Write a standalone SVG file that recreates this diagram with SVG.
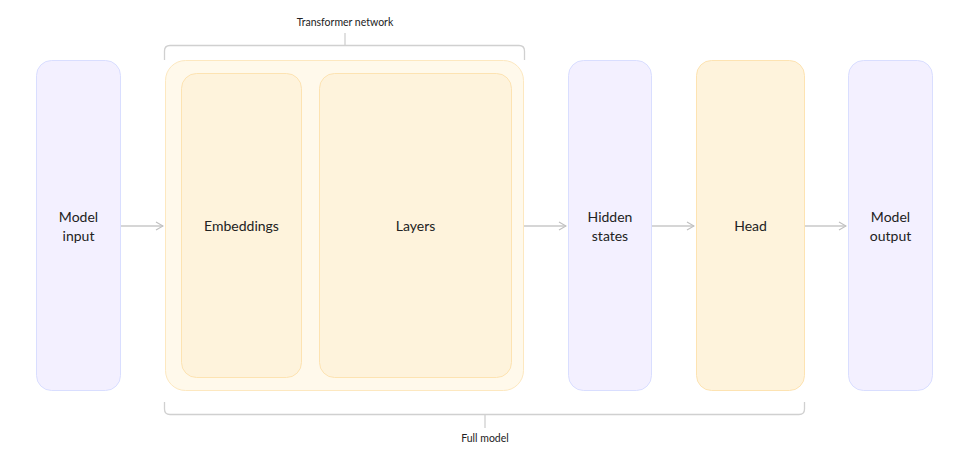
<svg xmlns="http://www.w3.org/2000/svg" width="959" height="474" viewBox="0 0 959 474">
<defs>
<style>
.p{fill:#f3f0ff;stroke:#d9deff;stroke-width:1}
.o{fill:#fef3dc;stroke:#fde3b2;stroke-width:1}
.oo{fill:#fff9eb;stroke:#fde8c0;stroke-width:1}
.t{font-family:Lato,"Liberation Sans",sans-serif;font-size:14px;fill:#222;text-anchor:middle}
.s{font-family:Lato,"Liberation Sans",sans-serif;font-size:10.5px;fill:#222;text-anchor:middle}
.c{fill:none;stroke:#c8c8c8;stroke-width:1.3}
.b{fill:none;stroke:#d0d0d0;stroke-width:1.3}
</style>
<marker id="ah" viewBox="0 0 10 10" refX="9" refY="5" markerWidth="10" markerHeight="10" markerUnits="userSpaceOnUse" orient="auto">
<path d="M2,1 L9,5 L2,9" fill="none" stroke="#c0c0c0" stroke-width="1.2"/>
</marker>
</defs>
<rect width="959" height="474" fill="#fff"/>
<g id="brackets">
<path class="b" d="M164.5,60 V51 Q164.5,45.5 170,45.5 H519 Q524.5,45.5 524.5,51 V60"/>
<path class="b" d="M345,45.5 V33"/>
<text class="s" x="345" y="26">Transformer network</text>
<path class="b" d="M164.5,402 V409 Q164.5,414.5 170,414.5 H799 Q804.5,414.5 804.5,409 V402"/>
<path class="b" d="M485,414.5 V428"/>
<text class="s" x="485" y="442">Full model</text>
</g>
<g id="model-input">
<rect class="p" x="36.5" y="60.5" width="84" height="330" rx="15"/>
<text class="t" x="78.5" y="222">Model</text>
<text class="t" x="78.5" y="241">input</text>
</g>
<g id="transformer">
<rect class="oo" x="165.5" y="60.5" width="358" height="330" rx="20"/>
</g>
<g id="embeddings">
<rect class="o" x="181.5" y="73.5" width="120" height="304" rx="15"/>
<text class="t" x="241.5" y="231">Embeddings</text>
</g>
<g id="layers">
<rect class="o" x="319.5" y="73.5" width="192" height="304" rx="15"/>
<text class="t" x="415.5" y="231">Layers</text>
</g>
<g id="hidden-states">
<rect class="p" x="568.5" y="60.5" width="83" height="330" rx="15"/>
<text class="t" x="610" y="222">Hidden</text>
<text class="t" x="610" y="241">states</text>
</g>
<g id="head">
<rect class="o" x="696.5" y="60.5" width="108" height="330" rx="15"/>
<text class="t" x="750.5" y="231">Head</text>
</g>
<g id="model-output">
<rect class="p" x="848.5" y="60.5" width="84" height="330" rx="15"/>
<text class="t" x="890.5" y="222">Model</text>
<text class="t" x="890.5" y="241">output</text>
</g>
<g id="connectors">
<path class="c" d="M121,226 H163" marker-end="url(#ah)"/>
<path class="c" d="M524,226 H566" marker-end="url(#ah)"/>
<path class="c" d="M652,226 H694" marker-end="url(#ah)"/>
<path class="c" d="M805,226 H846" marker-end="url(#ah)"/>
</g>
</svg>
